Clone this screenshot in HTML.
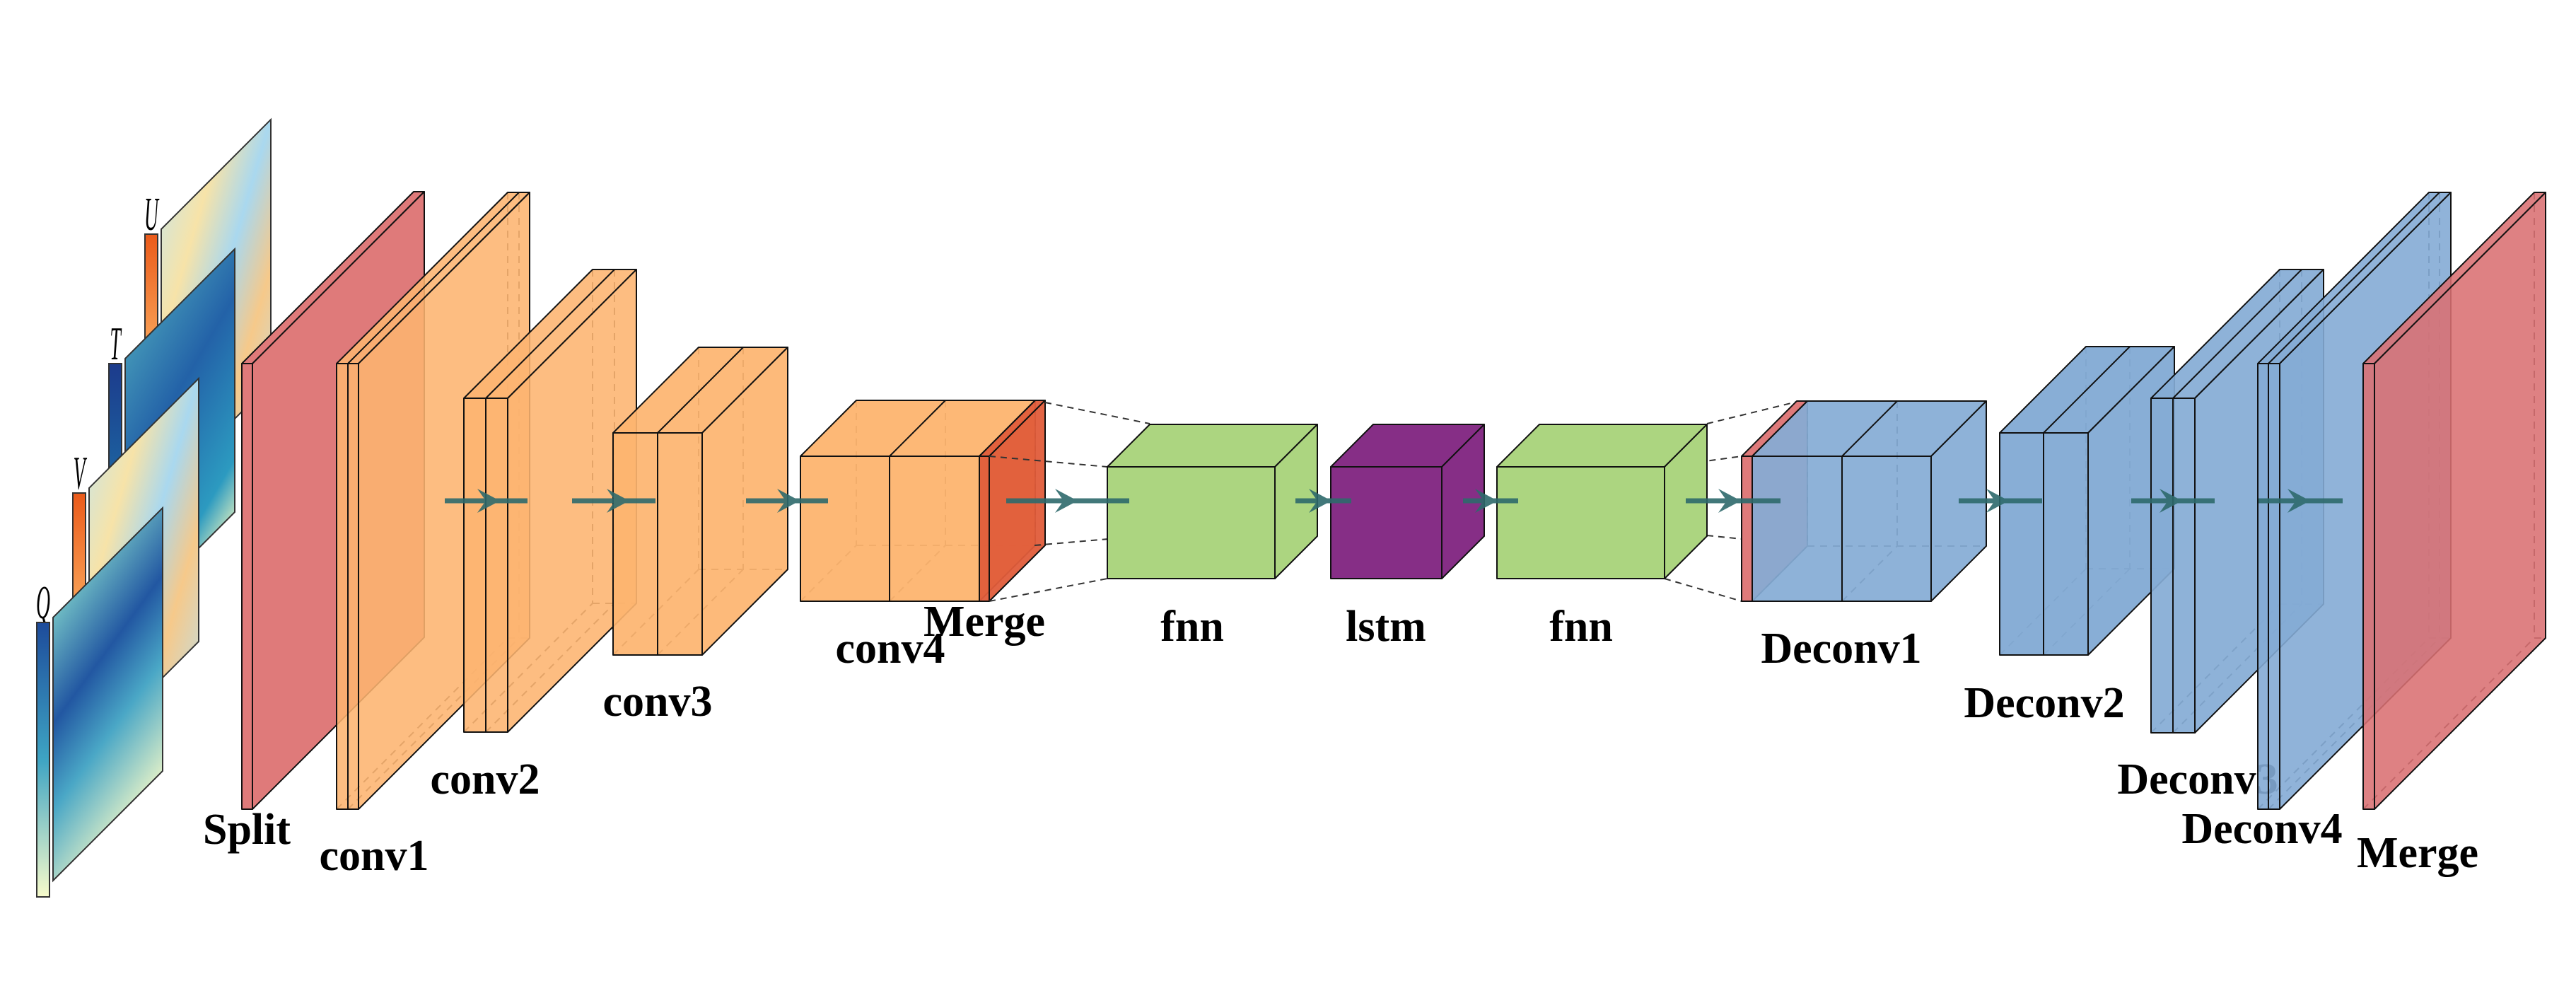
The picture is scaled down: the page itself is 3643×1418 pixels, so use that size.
<!DOCTYPE html>
<html><head><meta charset="utf-8"><title>CNN-LSTM architecture</title>
<style>html,body{margin:0;padding:0;background:#fff;}svg{display:block;}
.lbl{font-family:"Liberation Serif",serif;font-weight:bold;font-size:62px;fill:#000;text-anchor:middle;}
.var{font-family:"Liberation Serif",serif;font-style:italic;font-size:46px;fill:#000;text-anchor:middle;}
</style></head>
<body>
<svg id="fig" xmlns="http://www.w3.org/2000/svg" width="3643" height="1418" viewBox="0 0 3643 1418">
<defs>
<linearGradient id="gQ" x1="0" y1="0" x2="0.4" y2="1"><stop offset="0" stop-color="#e8f4c0"/><stop offset="0.25" stop-color="#6fbcc4"/><stop offset="0.5" stop-color="#2257a2"/><stop offset="0.7" stop-color="#4aa7c6"/><stop offset="1" stop-color="#f4f9c8"/></linearGradient>
<linearGradient id="gT" x1="0" y1="0" x2="0.5" y2="1"><stop offset="0" stop-color="#5bbdc3"/><stop offset="0.5" stop-color="#2362a8"/><stop offset="0.85" stop-color="#2c9ac0"/><stop offset="1" stop-color="#dff0c0"/></linearGradient>
<linearGradient id="gUV" x1="0" y1="0" x2="1" y2="1"><stop offset="0" stop-color="#bfe7f5"/><stop offset="0.3" stop-color="#f7e3a8"/><stop offset="0.5" stop-color="#a9d8ef"/><stop offset="0.7" stop-color="#f6c98a"/><stop offset="1" stop-color="#b7e2f4"/></linearGradient>
<linearGradient id="cbQ" x1="0" y1="0" x2="0" y2="1"><stop offset="0" stop-color="#1d4b9b"/><stop offset="0.5" stop-color="#3ea4c3"/><stop offset="1" stop-color="#f7fbcb"/></linearGradient>
<linearGradient id="cbR" x1="0" y1="0" x2="0" y2="1"><stop offset="0" stop-color="#ea5a1a"/><stop offset="0.5" stop-color="#fdb365"/><stop offset="1" stop-color="#fff2b2"/></linearGradient>
<linearGradient id="cbT" x1="0" y1="0" x2="0" y2="1"><stop offset="0" stop-color="#1c3b8c"/><stop offset="1" stop-color="#1e9bbd"/></linearGradient>
</defs>
<g id="labels">
<text class="lbl" x="349" y="1193">Split</text>
<text class="lbl" x="529" y="1230">conv1</text>
<text class="lbl" x="686" y="1122">conv2</text>
<text class="lbl" x="930" y="1012">conv3</text>
<text class="lbl" x="1259" y="937">conv4</text>
<text class="lbl" x="1392" y="899">Merge</text>
<text class="lbl" x="1686" y="906">fnn</text>
<text class="lbl" x="1960" y="906">lstm</text>
<text class="lbl" x="2236" y="906">fnn</text>
<text class="lbl" x="2604" y="937">Deconv1</text>
<text class="lbl" x="2891" y="1014">Deconv2</text>
<text class="lbl" x="3108" y="1122">Deconv3</text>
<text class="lbl" x="3199" y="1192">Deconv4</text>
<text class="lbl" x="3419" y="1226">Merge</text>
</g>
<g id="shapes"></g>
<g id="arrows"></g>
</svg>
<script>
const NS='http://www.w3.org/2000/svg';
const shapes=document.getElementById('shapes');
const arrowsG=document.getElementById('arrows');

const mapNames=['U','T','V','Q'];
const mapFills=['url(#gUV)','url(#gT)','url(#gUV)','url(#gQ)'];
const barFills=['url(#cbR)','url(#cbT)','url(#cbR)','url(#cbQ)'];

function mk(tag,attrs,parent){const e=document.createElementNS(NS,tag);for(const k in attrs)e.setAttribute(k,attrs[k]);(parent||shapes).appendChild(e);return e;}

mapNames.forEach((n,i)=>{
  const k=3-i;
  const L=75+51*k,R=230+51*k,rt=718-183*k,lt=rt+155,h=372;
  const bx=52+51*k,bt=880-183*k;
  const g=mk('g',{});
  
  
  const t=mk('text',{class:'var',transform:`translate(${bx+9},${bt-6}) scale(0.6,1.45)`},g);
  t.textContent=n;
  
  
  const b=mk('rect',{x:bx,y:bt,width:18,height:388,fill:barFills[i],stroke:'#333','stroke-width':2},g);
  
  
  const p=mk('polygon',{points:`${L},${lt} ${R},${rt} ${R},${rt+h} ${L},${lt+h}`,fill:mapFills[i],stroke:'#333','stroke-width':2},g);
  
  
});

const layerNames=['split','conv1','conv2','conv3','conv4','merge-enc','fnn1','lstm','fnn2','deconv1-merge','deconv1','deconv2','deconv3','deconv4','merge-dec'];
const layerXs=[[342,357],[476,492,507],[656,687,718],[867,930,993],[1132,1258,1385],[1385,1399],[1566,1803],[1882,2039],[2117,2354],[2463,2478],[2478,2605,2731],[2828,2890,2953],[3042,3073,3104],[3193,3208,3224],[3342,3358]];
const layerY=[[514,1144],[514,1144],[563,1035],[612,926],[645,850],[645,850],[660,818],[660,818],[660,818],[645,850],[645,850],[612,926],[563,1036],[514,1144],[514,1144]];
const layerD=[243,242,182,121,79,79,60,60,60,78,78,122,182,242,242];
const layerFill=['#df7a7a','#fdb46f','#fdb46f','#fdb46f','#fdb46f','#e05c3a','#acd580','#862e86','#acd580','#df7a7a','#84abd5','#84abd5','#84abd5','#84abd5','#d96f72'];
const layerOp=[1,0.88,0.88,0.92,0.95,0.95,1,1,1,1,0.92,0.97,0.92,0.9,0.88];

function drawBox(i){
  const xs=layerXs[i],[y0,y1]=layerY[i],d=layerD[i],f=layerFill[i],op=layerOp[i];
  const xl=xs[0],xr=xs[xs.length-1];
  const g=mk('g',{});
  
  
  const sa={fill:f,'fill-opacity':op,stroke:'#111','stroke-width':2,'stroke-linejoin':'round'};
  const dash={stroke:'#333','stroke-width':2,'stroke-dasharray':'10,8',fill:'none'};
  for(const x of xs.slice(0,-1)){
    mk('line',Object.assign({x1:x+d,y1:y0-d,x2:x+d,y2:y1-d},dash),g);
    mk('line',Object.assign({x1:x,y1:y1,x2:x+d,y2:y1-d},dash),g);
  }
  mk('line',Object.assign({x1:xl+d,y1:y1-d,x2:xr+d,y2:y1-d},dash),g);
  const top=mk('polygon',Object.assign({points:`${xl},${y0} ${xl+d},${y0-d} ${xr+d},${y0-d} ${xr},${y0}`},sa),g);
  
  
  const side=mk('polygon',Object.assign({points:`${xr},${y0} ${xr+d},${y0-d} ${xr+d},${y1-d} ${xr},${y1}`},sa),g);
  
  
  for(let j=0;j<xs.length-1;j++){
    const r=mk('rect',Object.assign({x:xs[j],y:y0,width:xs[j+1]-xs[j],height:y1-y0},sa),g);
    
    
    if(j>0) mk('line',{x1:xs[j],y1:y0,x2:xs[j]+d,y2:y0-d,stroke:'#111','stroke-width':2},g);
  }
}

const connectors=[[1478,569,1626,599],[1399,645,1566,660],[1463,771,1626,757],[1399,850,1566,818],
[2414,599,2545,567],[2354,660,2463,645],[2414,757,2554,771],[2354,818,2463,850]];

for(let i=0;i<6;i++) drawBox(i);
connectors.forEach(c=>{
  const l=mk('line',{x1:c[0],y1:c[1],x2:c[2],y2:c[3],stroke:'#333','stroke-width':2,'stroke-dasharray':'9,7'});
  
  
});
for(let i=6;i<layerNames.length;i++) drawBox(i);

const arrowStart=[629,809,1055,1423,1832,2069,2384,2770,3014,3194];
const arrowEnd=[746,927,1171,1597,1911,2147,2518,2888,3132,3313];
const arrowHead=[689,872,1113,1506,1865,2100,2444,2823,3068,3249];
const AY=708;
arrowStart.forEach((s,i)=>{
  const g=mk('g',{opacity:0.9},arrowsG);
  
  
  mk('line',{x1:s,y1:AY,x2:arrowEnd[i],y2:AY,stroke:'#2e6a6c','stroke-width':7},g);
  const h=arrowHead[i];
  mk('polygon',{points:`${h+18},${AY} ${h-14},${AY-17} ${h-2},${AY} ${h-14},${AY+17}`,fill:'#2e6a6c'},g);
});
</script>
</body></html>
